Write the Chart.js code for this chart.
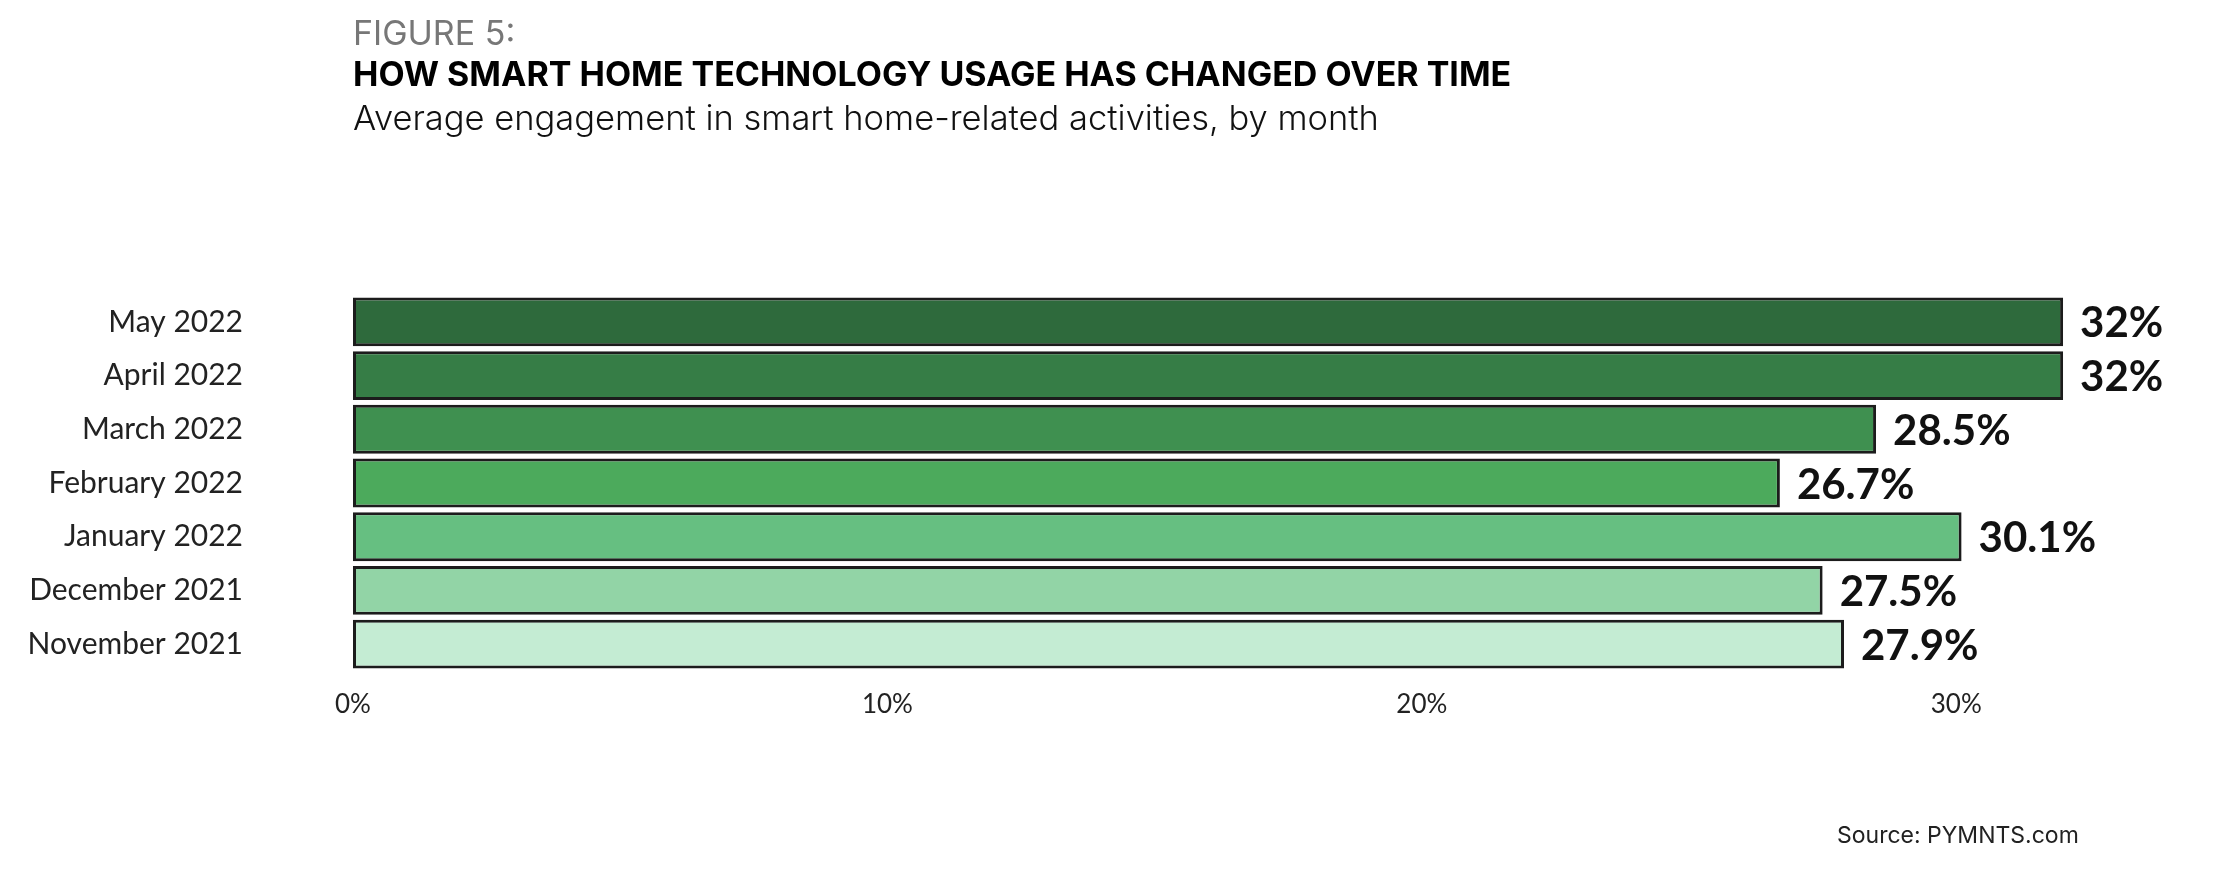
<!DOCTYPE html>
<html>
<head>
<meta charset="utf-8">
<script src="https://cdn.jsdelivr.net/npm/chart.js@4"></script>
<style>
    body { margin: 0; background: #fff; }
    #wrap { position: relative; width: 2218px; height: 882px; }
    #chart { position: absolute; left: 0; top: 0; }
    .txt { position: absolute; left: 353px; font-family: Inter, "Noto Sans", sans-serif; white-space: nowrap; }
    #fig { top: 12px; font-size: 34px; color: #777; }
    #title { top: 53px; font-size: 34px; font-weight: 700; color: #000; }
    #sub { top: 97px; font-size: 34.5px; font-weight: 300; color: #111; }
    #source { left: 1837px; top: 821px; font-size: 23px; color: #222; }
</style>
</head>
<body>
<div id="wrap">
    <canvas id="chart" width="2218" height="882"></canvas>
    <div class="txt" id="fig">FIGURE 5:</div>
    <div class="txt" id="title">HOW SMART HOME TECHNOLOGY USAGE HAS CHANGED OVER TIME</div>
    <div class="txt" id="sub">Average engagement in smart home-related activities, by month</div>
    <div class="txt" id="source">Source: PYMNTS.com</div>
</div>
<script>
const months = ["May 2022", "April 2022", "March 2022", "February 2022", "January 2022", "December 2021", "November 2021"];
const usage = [32, 32, 28.5, 26.7, 30.1, 27.5, 27.9];
const usageLabels = ["32%", "32%", "28.5%", "26.7%", "30.1%", "27.5%", "27.9%"];
const barColors = ["#2e6a3c", "#367d46", "#3f9050", "#4caa5c", "#66bf81", "#92d4a6", "#c4ecd3"];
const xTicks = [0, 10, 20, 30];

// Draw value labels at the end of each bar
const valueLabels = {
    id: "valueLabels",
    afterDatasetsDraw(chart) {
        const ctx = chart.ctx;
        const meta = chart.getDatasetMeta(0);
        ctx.save();
        ctx.font = "bold 42px Lato";
        ctx.fillStyle = "#111";
        ctx.textBaseline = "middle";
        meta.data.forEach((bar, i) => {
            ctx.fillText(usageLabels[i], bar.x + 17, bar.y + 2);
        });
        ctx.restore();
    }
};

new Chart(document.getElementById("chart").getContext("2d"), {
    type: "bar",
    data: {
        labels: months,
        datasets: [{
            data: usage,
            backgroundColor: barColors,
            borderColor: "#1c1c1c",
            borderWidth: 3,
            borderSkipped: false,
            barPercentage: 0.91,
            categoryPercentage: 1
        }]
    },
    options: {
        indexAxis: "y",
        responsive: false,
        animation: false,
        layout: { padding: { top: 295, bottom: 151, right: 48, left: 0 } },
        plugins: { legend: { display: false }, tooltip: { enabled: false } },
        scales: {
            x: {
                min: 0,
                max: 34,
                afterBuildTicks: scale => { scale.ticks = xTicks.map(v => ({ value: v })); },
                afterFit: scale => { scale.height = 60; },
                grid: { display: false, drawTicks: false },
                border: { display: false },
                ticks: {
                    padding: 18,
                    color: "#222",
                    font: { family: "Lato", size: 26 },
                    callback: v => v + "%"
                }
            },
            y: {
                afterFit: scale => { scale.width = 353; },
                grid: { display: false, drawTicks: false },
                border: { display: false },
                ticks: {
                    padding: 110,
                    color: "#222",
                    font: { family: "Lato", size: 30 }
                }
            }
        }
    },
    plugins: [valueLabels]
});
</script>
</body>
</html>
